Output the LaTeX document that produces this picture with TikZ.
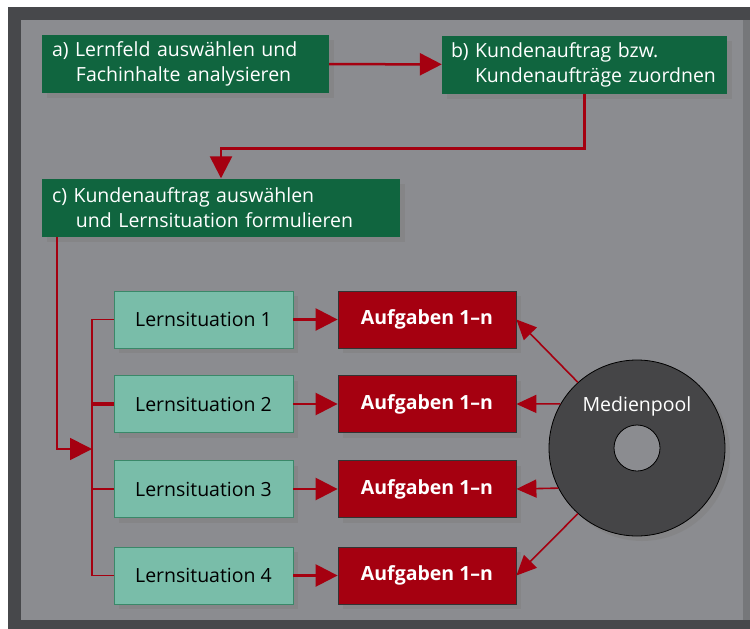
\documentclass[tikz,border=0pt]{standalone}
\usepackage{fontspec}
\setmainfont{Open Sans}
\usetikzlibrary{arrows.meta, positioning, shadows}
\definecolor{framegray}{RGB}{71,72,75}
\definecolor{panelgray}{RGB}{139,140,144}
\definecolor{edgegray}{RGB}{118,119,122}
\definecolor{phasegreen}{RGB}{16,101,63}
\definecolor{lernteal}{RGB}{121,189,169}
\definecolor{taskred}{RGB}{165,0,16}
\definecolor{diskgray}{RGB}{69,69,71}
\newcommand{\indentline}{\hspace*{24pt}}

\begin{document}
\begin{tikzpicture}[
    x=1pt, y=-1pt,
    boxshadow/.style={drop shadow={shadow xshift=5pt, shadow yshift=-5pt, opacity=.5}},
    phasebox/.style={fill=phasegreen, text=white, boxshadow, inner xsep=10pt, inner ysep=0pt,
        minimum height=58pt, align=left, font=\fontsize{19.5}{25}\selectfont},
    lernbox/.style={fill=lernteal, draw=phasegreen!60!lernteal, line width=.8pt, boxshadow,
        minimum width=179pt, minimum height=57pt, font=\fontsize{19.5}{23}\selectfont},
    taskbox/.style={fill=taskred, draw=black!80, line width=.8pt, text=white, boxshadow,
        minimum width=178pt, minimum height=57pt, font=\bfseries\fontsize{19.5}{23}\selectfont},
    flow/.style={draw=taskred, line width=2.5pt, -{Triangle[length=22pt, width=22pt]}},
    link/.style={draw=taskred, line width=1.8pt},
    poolarrow/.style={draw=taskred, line width=1.6pt, -{Triangle[length=20pt, width=18pt]}},
]
    % frame and panel
    \fill[white] (0,0) rectangle (750,629);
    \fill[framegray] (8,7) rectangle (750,629);
    \fill[panelgray] (21,20) rectangle (743,620);
    \fill[edgegray] (743,20) rectangle (750,620);

    % steps a) b) c)
    \node[phasebox, text width=267pt] (lernfeld) at (185.5,64)
        {\mbox{a) Lernfeld auswählen und}\\\indentline\mbox{Fachinhalte analysieren}};
    \node[phasebox, text width=267pt, inner xsep=9pt] (zuordnen) at (584.5,64.5)
        {\mbox{b) Kundenauftrag bzw.}\\\indentline\mbox{Kundenaufträge zuordnen}};
    \node[phasebox, text width=338pt] (formulieren) at (221,207.5)
        {\mbox{c) Kundenauftrag auswählen}\\\indentline\mbox{und Lernsituation formulieren}};

    \draw[flow] (lernfeld) -- (zuordnen);
    \draw[flow] (zuordnen.south) -- ++(0,55) -| (formulieren.north);

    % Lernsituationen and Aufgaben
    \foreach \i/\y in {1/319.5,2/404,3/489,4/575.5} {
        \node[lernbox] (lern\i) at (203.5,\y) {Lernsituation \i};
        \node[taskbox] (aufgabe\i) at (427,\y) {Aufgaben 1–n};
        \draw[flow] (lern\i) -- (aufgabe\i);
    }

    \coordinate (bus) at (92,449);
    \draw[link] (lern1.west) -| (bus) |- (lern4.west);
    \draw[link, line width=3.5pt] (lern2.west) -- (lern2.west -| bus);
    \draw[link] (lern3.west) -- (lern3.west -| bus);
    \draw[flow, line width=1.8pt] ([xshift=15pt]formulieren.south west) |- (bus);

    % Medienpool
    \node[circle, fill=diskgray, draw=black, line width=.8pt, minimum size=176pt,
        drop shadow={shadow xshift=5pt, shadow yshift=-5pt, opacity=.5}] (pool) at (637,448) {};
    \node[circle, fill=panelgray, draw=black, line width=.8pt, minimum size=46pt] (hole) at (637,448) {};
    \node[text=white, font=\fontsize{19.5}{24}\selectfont] (poollabel) at (637,406) {Medienpool};

    \draw[poolarrow] (pool.132) -- (aufgabe1.east);
    \draw[poolarrow] (pool.150) -- (aufgabe2.east);
    \draw[poolarrow] (pool.207) -- (aufgabe3.east);
    \draw[poolarrow] (pool.228) -- (aufgabe4.east);
\end{tikzpicture}
\end{document}
